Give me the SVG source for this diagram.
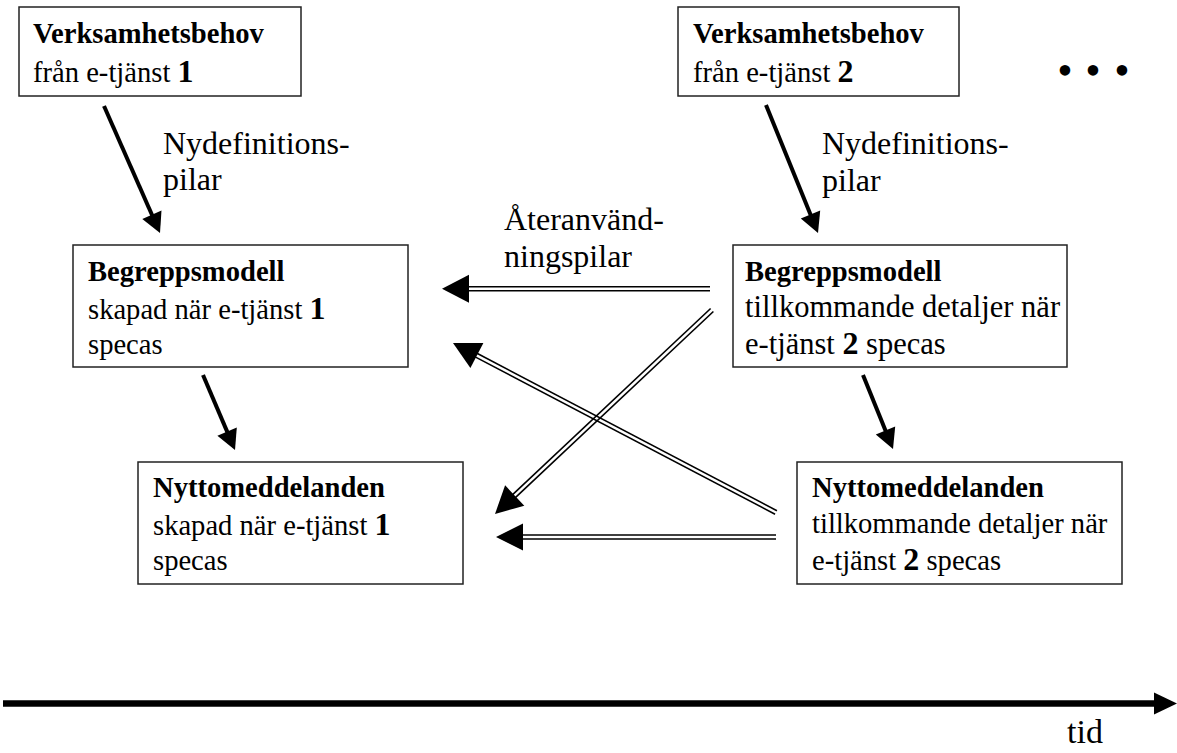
<svg xmlns="http://www.w3.org/2000/svg" width="1177" height="753" viewBox="0 0 1177 753">
  <style>
    text { font-family: "Liberation Serif", "Times New Roman", serif; font-size: 28.6px; fill: #000; }
    .b { font-weight: bold; }
    .num { font-weight: bold; font-size: 32px; }
    .lbl { font-size: 32px; }
    .big { font-size: 30.5px; }
    .dots { font-size: 44px; }
    .box { fill: #fff; stroke: #222; stroke-width: 1.5; }
    .solid { stroke: #000; stroke-width: 4; fill: none; }
    .dbl { stroke: #000; stroke-width: 1.6; fill: none; }
    .head { fill: #000; stroke: none; }
    .axis { stroke: #000; stroke-width: 6.5; fill: none; }
  </style>
  <rect width="1177" height="753" fill="#fff"/>

  <!-- nodes -->
  <g id="verksamhetsbehov-1">
    <rect class="box" x="19" y="7" width="282" height="89"/>
    <text x="33" y="43" class="b">Verksamhetsbehov</text>
    <text x="33" y="82">från e-tjänst <tspan class="num">1</tspan></text>
  </g>
  <g id="verksamhetsbehov-2">
    <rect class="box" x="678" y="7" width="281" height="89"/>
    <text x="693" y="43" class="b">Verksamhetsbehov</text>
    <text x="693" y="82">från e-tjänst <tspan class="num">2</tspan></text>
  </g>
  <g id="begreppsmodell-1">
    <rect class="box" x="73" y="245" width="335" height="122"/>
    <text x="88" y="281" class="b">Begreppsmodell</text>
    <text x="88" y="319">skapad när e-tjänst <tspan class="num">1</tspan></text>
    <text x="88" y="354">specas</text>
  </g>
  <g id="begreppsmodell-2">
    <rect class="box" x="733" y="245" width="334" height="122"/>
    <text x="745" y="281" class="b">Begreppsmodell</text>
    <text x="745" y="317" class="big">tillkommande detaljer när</text>
    <text x="745" y="354" class="big">e-tjänst <tspan class="num">2</tspan> specas</text>
  </g>
  <g id="nyttomeddelanden-1">
    <rect class="box" x="138" y="462" width="325" height="122"/>
    <text x="153" y="497" class="b">Nyttomeddelanden</text>
    <text x="153" y="535">skapad när e-tjänst <tspan class="num">1</tspan></text>
    <text x="153" y="570">specas</text>
  </g>
  <g id="nyttomeddelanden-2">
    <rect class="box" x="797" y="462" width="325" height="122"/>
    <text x="812" y="497" class="b">Nyttomeddelanden</text>
    <text x="812" y="533">tillkommande detaljer när</text>
    <text x="812" y="570">e-tjänst <tspan class="num">2</tspan> specas</text>
  </g>

  <!-- continuation dots -->
  <g id="fortsattning">
    <text x="1065 1093 1122" y="85" text-anchor="middle" class="dots">•••</text>
  </g>

  <!-- labels -->
  <g id="etiketter">
    <text x="163" y="154" class="lbl">Nydefinitions-</text>
    <text x="163" y="190" class="lbl">pilar</text>
    <text x="822" y="154" class="lbl">Nydefinitions-</text>
    <text x="822" y="191" class="lbl">pilar</text>
    <text x="504" y="230" class="lbl">Återanvänd-</text>
    <text x="504" y="267" class="lbl">ningspilar</text>
  </g>

  <!-- connectors -->
  <g id="connectors">
    <!-- new-definition arrows -->
    <line class="solid" x1="104" y1="106" x2="152.7" y2="216.5"/>
    <polygon class="head" points="160,233 142.3,218.9 161.5,210.5"/>
    <line class="solid" x1="766" y1="105" x2="811.2" y2="216.3"/>
    <polygon class="head" points="818,233 800.8,218.4 820.2,210.6"/>
    <line class="solid" x1="203" y1="375" x2="227.9" y2="433.4"/>
    <polygon class="head" points="235,450 217.4,435.7 236.8,427.5"/>
    <line class="solid" x1="863" y1="375" x2="886.2" y2="432.3"/>
    <polygon class="head" points="893,449 875.8,434.5 895.2,426.6"/>

    <!-- reuse arrows (double lines) -->
    <line class="dbl" x1="710" y1="286.7" x2="467" y2="286.7"/>
    <line class="dbl" x1="710" y1="290.7" x2="467" y2="290.7"/>
    <polygon class="head" points="442,288.7 469,274.7 469,302.7"/>

    <line class="dbl" x1="776" y1="535" x2="521" y2="535"/>
    <line class="dbl" x1="776" y1="539" x2="521" y2="539"/>
    <polygon class="head" points="496,537 523,523.5 523,550.5"/>

    <line class="dbl" x1="776.93" y1="510.73" x2="476.0" y2="352.8"/>
    <line class="dbl" x1="775.07" y1="514.27" x2="474.2" y2="356.4"/>
    <polygon class="head" points="453,343 483.4,343.1 470.4,367.9"/>

    <line class="dbl" x1="713.37" y1="311.46" x2="514.57" y2="498.36"/>
    <line class="dbl" x1="710.63" y1="308.54" x2="511.83" y2="495.44"/>
    <polygon class="head" points="495,514 524.3,505.7 505.1,485.3"/>
  </g>

  <!-- time axis -->
  <g id="tidsaxel">
    <line class="axis" x1="3" y1="703.5" x2="1156" y2="703.5"/>
    <polygon class="head" points="1177,703.5 1154,692.5 1154,714.5"/>
    <text x="1067" y="743" class="lbl" style="font-size:34px">tid</text>
  </g>
</svg>
